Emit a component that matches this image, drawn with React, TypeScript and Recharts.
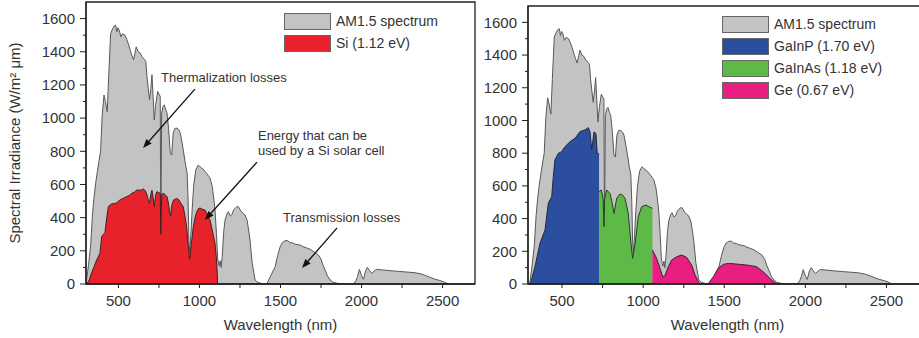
import React from "react";
import {
  ComposedChart,
  Area,
  XAxis,
  YAxis,
  ReferenceArea,
  ReferenceLine,
  ReferenceDot,
} from "recharts";

type Pt = [number, number];

// AM1.5 spectrum, wavelength (nm) -> spectral irradiance (W/m2 um)
const am15: Pt[] = [
  [300, 0], [315, 110], [329, 235], [340, 420], [349, 518], [360, 610], [370, 677], [380, 740],
  [390, 800], [400, 1018], [411, 1139], [420, 1100], [431, 1039], [440, 1250], [452, 1510],
  [465, 1540], [474, 1555], [483, 1561], [490, 1520], [497, 1545], [505, 1530], [515, 1490],
  [525, 1508], [540, 1500], [552, 1473], [562, 1445], [572, 1412], [582, 1380], [593, 1352],
  [603, 1395], [610, 1430], [622, 1400], [634, 1392], [646, 1370], [660, 1355], [669, 1342],
  [676, 1251], [684, 1180], [692, 1111], [700, 1180], [707, 1262], [714, 1130], [721, 990],
  [730, 1080], [742, 1161], [750, 1145], [758, 1131], [760, 650], [762, 300], [764, 650],
  [767, 1030], [775, 1070], [783, 1080], [792, 1050], [800, 1030], [810, 930], [820, 790],
  [829, 777], [838, 910], [849, 938], [862, 940], [875, 925], [882, 909], [893, 850], [903, 789],
  [914, 720], [924, 668], [930, 500], [935, 260], [940, 190], [947, 300], [955, 450], [965, 600],
  [978, 690], [993, 717], [1005, 705], [1027, 688], [1045, 665], [1058, 648], [1065, 639],
  [1079, 588], [1090, 500], [1096, 446], [1105, 300], [1112, 160], [1117, 126], [1122, 110],
  [1128, 140], [1134, 100], [1140, 160], [1150, 320], [1158, 386], [1170, 425], [1178, 436],
  [1190, 410], [1199, 416], [1212, 448], [1230, 466], [1240, 466], [1255, 440], [1270, 425],
  [1281, 416], [1295, 380], [1312, 265], [1325, 130], [1343, 24], [1360, 10], [1394, 0],
  [1415, 0], [1440, 50], [1467, 104], [1482, 170], [1498, 225], [1512, 250], [1528, 261],
  [1543, 262], [1559, 249], [1575, 248], [1590, 240], [1605, 237], [1621, 235], [1640, 225],
  [1660, 218], [1683, 209], [1705, 195], [1720, 185], [1734, 175], [1750, 150], [1762, 115],
  [1775, 84], [1790, 48], [1806, 24], [1825, 10], [1848, 5], [1870, 0], [1950, 0], [1965, 20],
  [1975, 45], [1987, 88], [2000, 50], [2012, 28], [2025, 80], [2036, 100], [2050, 80],
  [2063, 64], [2080, 80], [2094, 88], [2130, 85], [2180, 80], [2230, 76], [2280, 72],
  [2330, 68], [2370, 60], [2400, 50], [2423, 40], [2450, 30], [2480, 22], [2505, 14], [2536, 0],
];

// part usable by a Si cell
const si: Pt[] = [
  [305, 0], [320, 25], [335, 70], [348, 100], [366, 145], [386, 185], [397, 286], [408, 300],
  [417, 310], [428, 400], [438, 467], [450, 478], [459, 483], [475, 485], [490, 490], [510, 507],
  [531, 517], [552, 527], [568, 535], [583, 547], [600, 555], [614, 567], [635, 565], [655, 572],
  [668, 560], [678, 530], [686, 500], [692, 487], [700, 540], [707, 565], [714, 520], [721, 467],
  [730, 540], [738, 557], [750, 550], [758, 547], [760, 420], [762, 300], [764, 430], [768, 540],
  [779, 547], [790, 535], [800, 527], [810, 480], [815, 440], [822, 410], [830, 480], [841, 507],
  [860, 516], [875, 505], [885, 487], [900, 466], [912, 400], [921, 345], [930, 240], [940, 150],
  [950, 240], [962, 345], [975, 410], [986, 440], [995, 456], [1005, 457], [1020, 450],
  [1034, 446], [1050, 415], [1065, 386], [1080, 320], [1096, 245], [1105, 150], [1110, 64],
  [1112, 0],
];

// triple junction sub-cells
const gainp: Pt[] = [
  [305, 0], [333, 106], [364, 249], [395, 330], [415, 493], [436, 534], [446, 656], [456, 758],
  [477, 799], [498, 810], [518, 840], [549, 870], [580, 891], [611, 932], [641, 942], [662, 956],
  [672, 932], [683, 820], [697, 930], [709, 920], [717, 799], [728, 795],
];

const gainas: Pt[] = [
  [728, 565], [742, 575], [754, 514], [758, 350], [762, 520], [775, 575], [795, 554], [808, 500],
  [820, 432], [837, 524], [857, 550], [872, 545], [888, 524], [908, 432], [923, 269], [935, 157],
  [950, 245], [970, 412], [991, 473], [1018, 483], [1042, 469], [1057, 463],
];

const ge: Pt[] = [
  [1057, 208], [1083, 157], [1104, 96], [1120, 45], [1134, 50], [1155, 106], [1176, 147],
  [1207, 167], [1238, 177], [1268, 163], [1299, 116], [1320, 55], [1340, 14], [1352, 0],
  [1400, 0], [1433, 45], [1463, 96], [1494, 120], [1525, 126], [1577, 122], [1638, 116],
  [1700, 106], [1751, 65], [1792, 24], [1823, 0],
];

const xTicks = [500, 750, 1000, 1250, 1500, 1750, 2000, 2250, 2500];
const yTicks = [0, 100, 200, 300, 400, 500, 600, 700, 800, 900, 1000, 1100, 1200, 1300, 1400, 1500, 1600];

const GREY = { name: "AM1.5 spectrum", fill: "#c3c3c3", stroke: "#585858", points: am15 };
const leftSeries = [GREY, { name: "Si (1.12 eV)", fill: "#e8222a", stroke: "#3a2222", points: si }];
const rightSeries = [
  GREY,
  { name: "GaInP (1.70 eV)", fill: "#2c4e9e", stroke: "#22283a", points: gainp },
  { name: "GaInAs (1.18 eV)", fill: "#5dba46", stroke: "#2c3a28", points: gainas },
  { name: "Ge (0.67 eV)", fill: "#e91e80", stroke: "#3a2230", points: ge },
];

// annotations in data coordinates: text lines, text position, arrow from/to
const notes = [
  { lines: ["Thermalization losses"], tx: 763, ty: 1248, from: [972, 1175], to: [652, 820] },
  { lines: ["Energy that can be", "used by a Si solar cell"], tx: 1361, ty: 898, from: [1355, 735], to: [1034, 386] },
  { lines: ["Transmission losses"], tx: 1515, ty: 404, from: [1849, 338], to: [1633, 96] },
];

const FONT = "'Liberation Sans', Arial, Helvetica, sans-serif";
const INK = "#222";
const TXT = "#333";

const rows = (pts: Pt[]) => pts.map(([w, v]) => ({ w, v }));

const YTick = (props: any) => {
  const { x, y, payload } = props;
  const major = payload.value % 200 === 0;
  const len = major ? 6 : 3;
  return (
    <g>
      <line x1={x - len} x2={x} y1={y} y2={y} stroke={INK} strokeWidth={1} />
      {major && (
        <text x={x - 11} y={y} dy="0.35em" textAnchor="end" fontSize={15} fill={TXT} fontFamily={FONT}>
          {payload.value}
        </text>
      )}
    </g>
  );
};

const Arrow = (props: any) => {
  const { x1, y1, x2, y2 } = props;
  const a = Math.atan2(y2 - y1, x2 - x1);
  const L = 9;
  const W = 3.5;
  const bx = x2 - L * Math.cos(a);
  const by = y2 - L * Math.sin(a);
  const pts = `${x2},${y2} ${bx + W * Math.sin(a)},${by - W * Math.cos(a)} ${bx - W * Math.sin(a)},${by + W * Math.cos(a)}`;
  return (
    <g>
      <line x1={x1} y1={y1} x2={bx} y2={by} stroke="#111" strokeWidth={1.3} />
      <polygon points={pts} fill="#111" />
    </g>
  );
};

function Legend({ items, left, top }: { items: typeof rightSeries; left: number; top: number }) {
  return (
    <div style={{ position: "absolute", left, top, fontFamily: FONT, fontSize: 14, color: TXT }}>
      {items.map((s) => (
        <div key={s.name} style={{ display: "flex", alignItems: "center", height: 22 }}>
          <div style={{ width: 45, height: 15, background: s.fill, border: "1px solid #666", marginRight: 5 }} />
          <span>{s.name}</span>
        </div>
      ))}
    </div>
  );
}

interface PanelProps {
  left: number;
  width: number;
  top: number;
  yWidth: number;
  xMin: number;
  xMax: number;
  series: typeof rightSeries;
  yLabel?: boolean;
  withNotes?: boolean;
}

function Panel({ left, width, top, yWidth, xMin, xMax, series, yLabel, withNotes }: PanelProps) {
  return (
    <div style={{ position: "absolute", left, top: 0 }}>
      <ComposedChart width={width} height={338} margin={{ top, right: 5, bottom: 0, left: 0 }}>
        <XAxis
          dataKey="w"
          type="number"
          domain={[xMin, xMax]}
          allowDataOverflow
          ticks={xTicks}
          interval={0}
          height={54}
          tickSize={4}
          tickMargin={7}
          tickFormatter={(v: number) => (v % 500 === 0 ? String(v) : "")}
          tick={{ fontSize: 15, fill: TXT, fontFamily: FONT }}
          axisLine={{ stroke: INK, strokeWidth: 1.3 }}
          tickLine={{ stroke: INK }}
          label={{
            content: (p: any) => {
              const vb = p.viewBox;
              return (
                <text x={vb.x + vb.width / 2} y={vb.y + 46} textAnchor="middle" fontSize={15} fill={TXT} fontFamily={FONT}>
                  Wavelength (nm)
                </text>
              );
            },
          }}
        />
        <YAxis
          type="number"
          domain={[0, 1700]}
          allowDataOverflow
          ticks={yTicks}
          interval={0}
          width={yWidth}
          tickSize={0}
          tickMargin={0}
          tickLine={false}
          tick={<YTick />}
          axisLine={{ stroke: INK, strokeWidth: 1.3 }}
          label={
            yLabel
              ? {
                  content: (p: any) => {
                    const vb = p.viewBox;
                    const cx = vb.x + 20;
                    const cy = vb.y + vb.height / 2;
                    return (
                      <text
                        x={cx}
                        y={cy}
                        transform={`rotate(-90, ${cx}, ${cy})`}
                        textAnchor="middle"
                        fontSize={15}
                        fill={TXT}
                        fontFamily={FONT}
                      >
                        Spectral Irradiance (W/m² μm)
                      </text>
                    );
                  },
                }
              : undefined
          }
        />
        {series.map((s) => (
          <Area
            key={s.name}
            data={rows(s.points)}
            dataKey="v"
            type="linear"
            fill={s.fill}
            fillOpacity={1}
            stroke={s.stroke}
            strokeWidth={1}
            dot={false}
            activeDot={false}
            isAnimationActive={false}
          />
        ))}
        <ReferenceArea x1={xMin} x2={xMax} y1={0} y2={1700} fill="none" stroke={INK} strokeWidth={1.3} ifOverflow="visible" />
        {withNotes &&
          notes.map((n, i) => (
            <ReferenceLine
              key={"a" + i}
              segment={[{ x: n.from[0], y: n.from[1] }, { x: n.to[0], y: n.to[1] }]}
              ifOverflow="visible"
              shape={<Arrow />}
            />
          ))}
        {withNotes &&
          notes.map((n, i) => (
            <ReferenceDot
              key={"t" + i}
              x={n.tx}
              y={n.ty}
              r={0}
              ifOverflow="visible"
              shape={(p: any) => (
                <text x={p.cx} y={p.cy} fontSize={13} fill={TXT} fontFamily={FONT}>
                  {n.lines.map((l, j) => (
                    <tspan key={j} x={p.cx} dy={j === 0 ? "0.35em" : 15}>
                      {l}
                    </tspan>
                  ))}
                </text>
              )}
            />
          ))}
      </ComposedChart>
    </div>
  );
}

export default function App() {
  return (
    <div
      style={{
        position: "absolute",
        left: 0,
        top: 0,
        width: 919,
        height: 338,
        overflow: "hidden",
        background: "#fff",
        fontFamily: FONT,
      }}
    >
      <Panel left={0} width={480} top={2} yWidth={86} xMin={300} xMax={2700} series={leftSeries} yLabel withNotes />
      <Panel left={440} width={492} top={6} yWidth={88} xMin={290} xMax={2750} series={rightSeries} />
      <Legend items={leftSeries} left={284} top={10} />
      <Legend items={rightSeries} left={722} top={13} />
    </div>
  );
}
